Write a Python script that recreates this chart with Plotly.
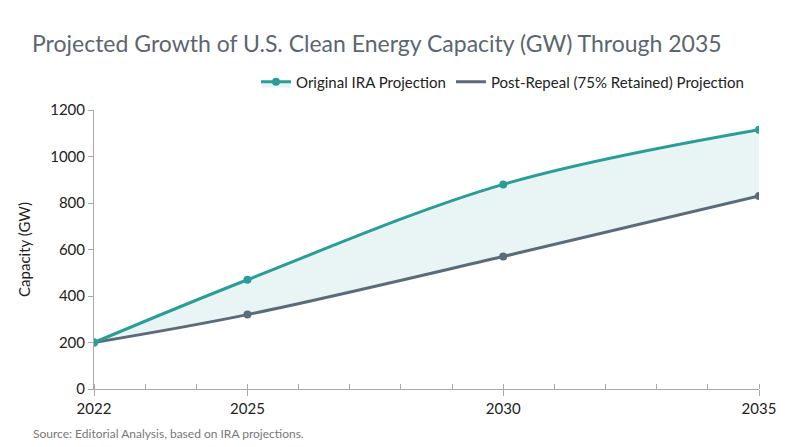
import plotly.graph_objects as go

years = [2022, 2025, 2030, 2035]
original = [200, 470, 880, 1115]
post_repeal = [200, 320, 570, 830]
x_tick_labels = ["2022", "2025", "2030", "2035"]

teal = "#2a9d96"
slate = "#5a6b7a"

fig = go.Figure()
fig.add_trace(go.Scatter(x=years, y=post_repeal, mode="lines+markers", name="Post-Repeal (75% Retained) Projection",
                         line=dict(color=slate, width=3, shape="spline"), marker=dict(size=8, color=slate),
                         showlegend=False))
fig.add_trace(go.Scatter(x=years, y=original, mode="lines+markers", name="Original IRA Projection",
                         line=dict(color=teal, width=3, shape="spline"), marker=dict(size=8, color=teal),
                         fill="tonexty", fillcolor="rgba(42,157,150,0.10)"))
fig.add_trace(go.Scatter(x=[None], y=[None], mode="lines", name="Post-Repeal (75% Retained) Projection",
                         line=dict(color=slate, width=3)))

font = "Lato, Open Sans, sans-serif"
fig.update_layout(
    width=800, height=447, plot_bgcolor="white", paper_bgcolor="white",
    margin=dict(l=86, r=49, t=102, b=66),
    font=dict(family=font, size=15, color="#222"),
    title=dict(text="Projected Growth of U.S. Clean Energy Capacity (GW) Through 2035", x=0.03, y=0.92,
               xanchor="left", yanchor="middle", font=dict(size=23, color="#5b6670")),
    legend=dict(orientation="h", x=0.985, xanchor="right", y=1.1, yanchor="middle", traceorder="normal",
                font=dict(size=15, color="#222"), itemwidth=30),
    annotations=[dict(text="Source: Editorial Analysis, based on IRA projections.", xref="paper", yref="paper",
                      x=-0.095, y=-0.158, xanchor="left", yanchor="middle", showarrow=False,
                      font=dict(size=12, color="#777"))],
)
fig.update_xaxes(range=[2022, 2035], tickvals=years, ticktext=x_tick_labels, showgrid=False,
                 showline=True, linecolor="#aaa", ticks="outside", ticklen=6, tickcolor="#aaa",
                 minor=dict(dtick=1, ticks="inside", ticklen=5, tickcolor="#aaa", showgrid=False),
                 tickfont=dict(size=15, color="#222"))
fig.update_yaxes(range=[0, 1200], dtick=200, showgrid=False, showline=True, linecolor="#aaa",
                 ticks="outside", ticklen=5, tickcolor="#aaa", zeroline=False,
                 title=dict(text="Capacity (GW)", font=dict(size=15)), tickfont=dict(size=15, color="#222"))
fig.write_html("out.html")
